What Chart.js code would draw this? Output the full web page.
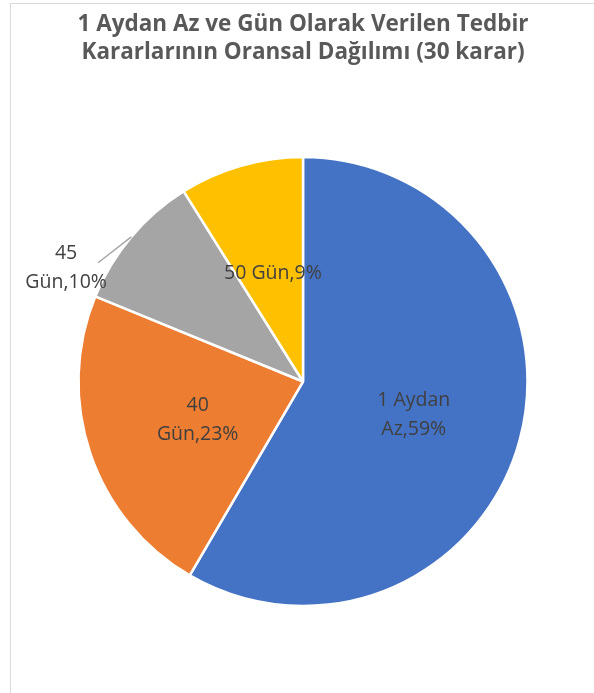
<!DOCTYPE html>
<html>
<head>
<meta charset="utf-8">
<script src="https://cdn.jsdelivr.net/npm/chart.js@4.4.1/dist/chart.umd.min.js"></script>
<style>
  html, body { margin: 0; padding: 0; background: #fff; }
  #wrap { position: relative; width: 594px; height: 693px; overflow: hidden; }
  #frame { position: absolute; left: 10px; top: 3px; width: 600px; height: 700px;
           border-left: 1px solid #d9d9d9; border-top: 1px solid #d9d9d9; }
  canvas { position: absolute; left: 0; top: 0; }
</style>
</head>
<body>
<div id="wrap">
  <div id="frame"></div>
  <canvas id="c" width="594" height="693"></canvas>
</div>
<script>
// ---- data ----
const categories = ["1 Aydan Az", "40 Gün", "45 Gün", "50 Gün"];
const percentValues = [59, 23, 10, 9];
const sliceLabels = [["1 Aydan", "Az,59%"], ["40", "Gün,23%"], ["45", "Gün,10%"], ["50 Gün,9%"]];
const chartTitle = ["1 Aydan Az ve Gün Olarak Verilen Tedbir", "Kararlarının Oransal Dağılımı (30 karar)"];

// ---- styling ----
const colors = ["#4472C4", "#ED7D31", "#A5A5A5", "#FFC000"];
const labelFont = "'Open Sans', sans-serif";
// polar placement of labels: radius fraction, angle offset (deg) from slice mid-angle
const labelPlacement = [
  { r: 0.515, da: 1.5 },
  { r: 0.50, da: -1.5 },
  { r: 1.17, da: -14.5, leader: { r: 1.055, da: -10 } },
  { r: 0.50, da: 0.5 }
];

const sliceLabelPlugin = {
  id: 'sliceLabels',
  afterDatasetsDraw(chart) {
    const ctx = chart.ctx;
    const meta = chart.getDatasetMeta(0);
    ctx.save();
    ctx.font = "19.5px " + labelFont;
    ctx.fillStyle = "#404040";
    ctx.textAlign = "center";
    ctx.textBaseline = "middle";
    const lh = 29;
    meta.data.forEach((arc, i) => {
      const p = arc.getProps(['x', 'y', 'startAngle', 'endAngle', 'outerRadius'], true);
      const mid = (p.startAngle + p.endAngle) / 2;
      const pl = labelPlacement[i];
      const a = mid + pl.da * Math.PI / 180;
      const cx = p.x + Math.cos(a) * p.outerRadius * pl.r;
      const cy = p.y + Math.sin(a) * p.outerRadius * pl.r;
      if (pl.leader) {
        const la = mid + pl.leader.da * Math.PI / 180;
        ctx.beginPath();
        ctx.strokeStyle = "#A6A6A6";
        ctx.lineWidth = 1.5;
        ctx.moveTo(p.x + Math.cos(mid) * p.outerRadius, p.y + Math.sin(mid) * p.outerRadius);
        ctx.lineTo(p.x + Math.cos(la) * p.outerRadius * pl.leader.r, p.y + Math.sin(la) * p.outerRadius * pl.leader.r);
        ctx.stroke();
      }
      const lines = sliceLabels[i];
      const y0 = cy - (lines.length - 1) * lh / 2;
      lines.forEach((t, k) => ctx.fillText(t, cx, y0 + k * lh));
    });
    ctx.restore();
  }
};

new Chart(document.getElementById('c'), {
  type: 'pie',
  data: {
    labels: categories,
    datasets: [{
      data: percentValues,
      backgroundColor: colors,
      borderColor: "#ffffff",
      borderWidth: 2.5
    }]
  },
  options: {
    responsive: false,
    animation: false,
    events: [],
    radius: 224.5,
    layout: { padding: { top: 0, bottom: 10, left: 20, right: 8 } },
    plugins: {
      legend: { display: false },
      tooltip: { enabled: false },
      title: {
        display: true,
        text: chartTitle,
        color: "#595959",
        font: { family: labelFont, size: 22.5, weight: 'bold', lineHeight: 1.245 },
        padding: { top: 10.5, bottom: 13.5 }
      }
    }
  },
  plugins: [sliceLabelPlugin]
});
</script>
</body>
</html>
